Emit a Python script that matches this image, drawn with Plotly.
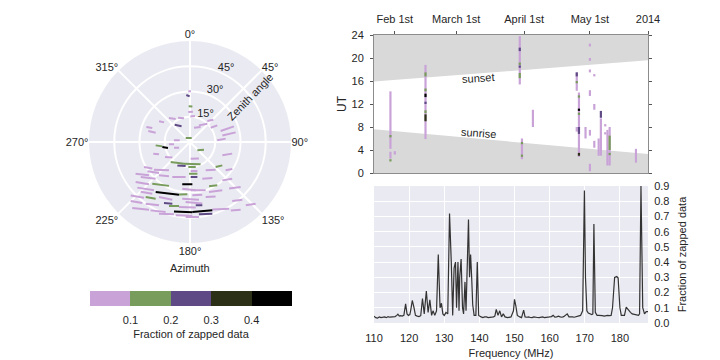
import plotly.graph_objects as go

# ---- polar panel: short source tracks (azimuth / zenith of both ends, degrees)
seg_az0 = [-1.9, -4.5, -2.1, -3.2, 0.8, -41.2, -26.1, 39.5, 28.2, -41.5, -71.0, -75.3, -56.2, 15.8, 55.4,
           70.3, 78.8, 86.5, -47.3, 264.4, 259.6, 263.6, 250.3, 276.0, 138.7, 252.4, 239.2, 177.7, 112.4,
           134.4, 224.0, 195.6, 208.4, 183.8, 241.4, 235.5, 232.5, 178.7, 181.8, 151.0, 128.4, 239.8,
           234.6, 222.9, 206.8, 178.9, 222.1, 190.4, 156.7, 139.9, 233.6, 229.1, 214.5, 191.8, 179.2,
           159.2, 140.0, 228.0, 218.8, 209.4, 177.5, 164.1, 144.4, 225.2, 203.1, 198.2, 184.2, 174.8,
           189.6, 221.2, 210.0, 193.0, 178.1, 173.0, 161.7, 149.2, 138.6, 203.4, 191.0, 215.7, 189.4,
           161.5, 224.8, 187.8, 183.3]
seg_zen0 = [30.1, 28.0, 21.2, 17.8, 15.2, 19.0, 16.1, 16.2, 11.2, 13.7, 27.4, 25.6, 22.1, 8.8, 14.9,
            19.3, 19.6, 16.2, 3.5, 20.5, 16.7, 12.6, 10.1, 9.6, 6.6, 22.9, 17.3, 9.9, 20.8,
            21.3, 16.5, 13.4, 15.8, 14.9, 31.1, 30.7, 27.0, 17.2, 18.8, 19.2, 27.0, 37.4,
            35.9, 27.0, 23.3, 20.8, 33.4, 25.5, 28.6, 29.8, 40.1, 41.4, 36.0, 31.8, 28.7,
            31.8, 36.1, 47.4, 42.0, 37.5, 31.7, 34.0, 43.1, 49.7, 39.4, 40.0, 35.7, 37.8,
            39.1, 52.1, 46.9, 42.3, 41.6, 43.3, 42.3, 47.3, 50.1, 46.4, 44.4, 45.1, 28.1,
            23.0, 41.6, 34.0, 44.7]
seg_az1 = [1.1, -0.4, 3.8, 5.6, 10.9, -31.8, -14.3, 46.3, 43.4, -28.3, -69.7, -74.9, -52.8, 35.3, 58.6,
           70.4, 78.1, 84.6, 22.6, 261.0, 254.6, 261.6, 242.4, 279.3, 119.0, 248.4, 228.5, 151.8, 105.4,
           125.9, 195.6, 154.7, 190.3, 167.1, 234.8, 225.0, 216.7, 165.6, 166.8, 137.2, 122.5, 230.9,
           223.1, 211.5, 187.1, 168.1, 205.6, 176.8, 147.8, 131.0, 224.2, 216.7, 191.8, 182.9, 162.0,
           146.2, 131.6, 219.5, 211.2, 197.0, 166.9, 154.8, 137.8, 218.0, 196.0, 189.7, 168.7, 169.0,
           175.0, 211.2, 199.2, 178.1, 161.9, 162.7, 149.6, 143.2, 133.2, 192.5, 178.2, 206.1, 173.2,
           148.1, 216.1, 171.2, 173.2]
seg_zen1 = [30.1, 27.1, 21.2, 18.1, 15.7, 16.1, 14.5, 19.2, 15.0, 10.6, 23.9, 21.1, 19.3, 10.9, 19.0,
            27.7, 27.7, 21.3, 2.6, 16.6, 13.6, 9.6, 7.3, 6.2, 9.5, 19.8, 14.0, 11.2, 26.0,
            23.7, 13.4, 14.7, 14.5, 15.3, 27.4, 26.0, 20.9, 17.8, 19.3, 22.4, 29.8, 31.4,
            29.9, 23.9, 21.0, 21.3, 28.9, 25.1, 30.4, 33.2, 35.0, 35.8, 32.0, 31.1, 30.2,
            34.5, 40.2, 42.9, 39.4, 35.9, 32.1, 35.7, 46.3, 46.0, 38.1, 38.6, 37.3, 38.3,
            39.1, 47.0, 44.1, 41.8, 42.7, 44.6, 45.9, 50.2, 53.5, 44.0, 43.8, 41.9, 28.9,
            25.2, 38.0, 34.7, 44.9]
seg_frac = [0.05, 0.25, 0.15, 0.05, 0.05, 0.05, 0.05, 0.05, 0.05, 0.25, 0.05, 0.05, 0.05, 0.05, 0.05,
            0.05, 0.05, 0.05, 0.15, 0.15, 0.45, 0.05, 0.05, 0.05, 0.15, 0.05, 0.05, 0.05, 0.05,
            0.15, 0.15, 0.15, 0.25, 0.15, 0.05, 0.05, 0.05, 0.05, 0.15, 0.05, 0.05, 0.05,
            0.05, 0.05, 0.05, 0.25, 0.15, 0.45, 0.15, 0.05, 0.05, 0.05, 0.45, 0.15, 0.05,
            0.05, 0.05, 0.05, 0.15, 0.05, 0.05, 0.05, 0.05, 0.05, 0.25, 0.15, 0.05, 0.25,
            0.05, 0.05, 0.05, 0.45, 0.45, 0.25, 0.05, 0.05, 0.05, 0.05, 0.05, 0.05, 0.05,
            0.05, 0.05, 0.05, 0.05]

azimuth_ticks = [0, 45, 90, 135, 180, 225, 270, 315]
zenith_ticks = [15, 30, 45]

# ---- observation calendar: date, UT span, fraction zapped
obs_date = ["2014-01-30", "2014-01-30", "2014-02-01", "2014-01-30", "2014-01-30",
            "2014-02-15", "2014-02-15", "2014-02-15", "2014-02-15", "2014-02-15", "2014-02-15", "2014-02-15",
            "2014-03-30", "2014-03-30", "2014-03-30", "2014-03-30", "2014-03-30",
            "2014-03-31", "2014-03-31", "2014-03-31", "2014-04-05",
            "2014-04-25", "2014-04-25", "2014-04-25", "2014-04-25",
            "2014-04-26", "2014-04-26", "2014-04-26", "2014-04-26", "2014-04-26", "2014-04-26",
            "2014-04-29", "2014-05-01", "2014-05-01", "2014-05-01", "2014-05-01", "2014-05-01", "2014-05-01",
            "2014-05-03", "2014-05-03", "2014-05-03", "2014-05-05", "2014-05-06", "2014-05-06",
            "2014-05-08", "2014-05-08", "2014-05-09", "2014-05-10", "2014-05-10", "2014-05-10", "2014-05-22"]
obs_ut0 = [4.2, 2.5, 3.2, 6.2, 2.0,
           5.9, 16.8, 14.2, 10.4, 12.0, 9.0, 13.2,
           15.4, 18.8, 16.5, 21.2, 18.3,
           2.4, 5.0, 2.8, 8.0,
           14.3, 15.6, 16.8, 7.2,
           2.8, 13.1, 10.1, 6.8, 10.8, 3.0,
           6.0, 22.0, 19.5, 17.5, 13.4, 6.5, 0.3,
           16.8, 11.0, 4.4, 3.0, 3.0, 9.6,
           8.1, 6.7, 1.3, 1.3, 4.0, 3.1, 1.8]
obs_ut1 = [14.2, 3.7, 3.8, 6.6, 2.4,
           18.8, 17.5, 14.7, 10.9, 12.4, 10.2, 13.8,
           23.8, 19.2, 17.4, 21.8, 18.7,
           6.0, 5.4, 3.2, 11.0,
           17.5, 16.0, 17.5, 8.0,
           14.0, 13.5, 10.5, 8.0, 11.2, 3.5,
           8.0, 22.5, 20.0, 18.0, 14.4, 7.5, 1.6,
           17.2, 12.0, 5.6, 6.0, 9.5, 10.8,
           8.5, 7.1, 7.5, 8.0, 6.5, 3.5, 4.2]
obs_frac = [0.05, 0.05, 0.05, 0.15, 0.15,
            0.05, 0.15, 0.15, 0.15, 0.25, 0.35, 0.45,
            0.05, 0.15, 0.15, 0.25, 0.25,
            0.05, 0.15, 0.15, 0.05,
            0.05, 0.15, 0.25, 0.05,
            0.05, 0.15, 0.15, 0.25, 0.45, 0.35,
            0.05, 0.05, 0.05, 0.05, 0.05, 0.05, 0.05,
            0.05, 0.05, 0.05, 0.05, 0.05, 0.25,
            0.05, 0.05, 0.05, 0.05, 0.15, 0.15, 0.05]

sun_dates = ["2014-01-22 12:00", "2014-05-27 12:00"]
sunset_ut = [15.9, 19.6]
sunrise_ut = [7.6, 3.3]
day_ticks = ["2014-02-01", "2014-03-01", "2014-04-01", "2014-05-01", "2014-05-27 12:00"]
day_labels = ["Feb 1st", "March 1st", "April 1st", "May 1st", "2014"]

# ---- fraction zapped vs frequency
freq = [110, 110.5, 111, 111.5, 112, 112.5, 113, 113.5, 114, 114.5, 115, 115.5, 116, 116.5, 116.8, 117.2,
        117.6, 118, 118.5, 119, 119.4, 119.8, 120.2, 120.5, 120.9, 121.4, 121.8, 122.3, 122.8, 123.3, 123.8,
        124.3, 124.9, 125.4, 125.9, 126.4, 126.8, 127.3, 127.8, 128.3, 128.8, 129.2, 129.6, 130, 130.5,
        131, 131.5, 132, 132.4, 132.8, 133.2, 133.5, 133.9, 134.2, 134.4, 134.8, 135.2, 135.5, 135.9,
        136.2, 136.5, 136.9, 137.2, 137.5, 137.8, 138.1, 138.5, 139, 139.4, 139.8, 140.5, 141, 141.5,
        142, 142.5, 143, 143.5, 144, 144.4, 144.8, 145.3, 145.8, 146.3, 146.8, 147.3, 148, 148.5, 149,
        149.7, 150, 150.4, 150.8, 151.5, 152, 152.6, 153, 153.5, 154, 154.5, 155, 155.5, 156, 156.5, 157,
        157.5, 158, 158.5, 159, 159.5, 160, 160.5, 161, 161.5, 162, 162.5, 163, 163.5, 164, 164.6, 165,
        165.5, 166, 166.5, 167, 167.5, 168, 168.5, 168.8, 169.4, 169.9, 170.2, 170.6, 171, 171.5, 172,
        172.3, 172.6, 173, 173.5, 174, 174.5, 175, 175.5, 176, 176.5, 177, 177.5, 177.9, 178.5, 179.1,
        179.5, 180, 180.4, 180.8, 181.3, 181.8, 182.5, 183, 183.5, 184, 184.5, 185, 185.3, 185.6, 186,
        186.5, 187, 187.5, 188]
zapped = [0.045, 0.035, 0.032, 0.04, 0.036, 0.038, 0.04, 0.035, 0.042, 0.038, 0.04, 0.044, 0.042, 0.05,
          0.058, 0.045, 0.048, 0.045, 0.05, 0.126, 0.06, 0.05, 0.055, 0.09, 0.148, 0.1, 0.05, 0.045,
          0.042, 0.048, 0.16, 0.06, 0.21, 0.07, 0.152, 0.05, 0.08, 0.05, 0.08, 0.45, 0.1, 0.13, 0.06,
          0.05, 0.07, 0.06, 0.72, 0.4, 0.05, 0.36, 0.4, 0.1, 0.4, 0.08, 0.3, 0.42, 0.1, 0.06, 0.27,
          0.08, 0.36, 0.68, 0.3, 0.45, 0.3, 0.12, 0.05, 0.05, 0.4, 0.05, 0.04, 0.035, 0.04, 0.04,
          0.035, 0.035, 0.038, 0.04, 0.045, 0.09, 0.05, 0.08, 0.04, 0.06, 0.04, 0.035, 0.04, 0.04,
          0.08, 0.155, 0.11, 0.05, 0.04, 0.035, 0.085, 0.04, 0.038, 0.04, 0.036, 0.035, 0.04, 0.04,
          0.036, 0.035, 0.038, 0.04, 0.036, 0.035, 0.038, 0.04, 0.042, 0.05, 0.038, 0.04, 0.045, 0.04,
          0.038, 0.042, 0.05, 0.06, 0.04, 0.042, 0.04, 0.038, 0.04, 0.042, 0.045, 0.05, 0.08, 0.87, 0.3,
          0.08, 0.065, 0.06, 0.055, 0.06, 0.65, 0.07, 0.05, 0.05, 0.05, 0.048, 0.045, 0.05, 0.05, 0.048,
          0.05, 0.1, 0.3, 0.305, 0.295, 0.1, 0.05, 0.05, 0.05, 0.105, 0.08, 0.07, 0.06, 0.058, 0.055,
          0.052, 0.05, 0.06, 0.9, 0.1, 0.06, 0.075, 0.075, 0.06]

cbar_ticks = [0.1, 0.2, 0.3, 0.4]
COLORS = ["#C9A3D8", "#789C5B", "#5F4A85", "#2B3016", "#000000"]
FONT = "Liberation Sans, Arial, sans-serif"
TXT = "#262626"
W, H, OFF = 720, 360, 8   # page body has an 8px margin


def px(x):
    return (x - OFF) / W


def py(y):
    return 1 - (y - OFF) / H


def bin_of(f):
    return min(int(f * 10), 4)


fig = go.Figure()

# polar tracks, one trace per colour bin
for b in range(5):
    th, r = [], []
    for i in range(len(seg_frac)):
        if bin_of(seg_frac[i]) == b:
            th += [seg_az0[i], seg_az1[i], None]
            r += [seg_zen0[i], seg_zen1[i], None]
    fig.add_trace(go.Scatterpolar(r=r, theta=th, mode="lines", line=dict(color=COLORS[b], width=2),
                                  showlegend=False, hoverinfo="skip", subplot="polar"))

# zenith tick labels, just outside each ring
fig.add_trace(go.Scatterpolar(r=[z + 4.0 for z in zenith_ticks], theta=[29, 26, 26], mode="text",
                              text=[f"{z}°" for z in zenith_ticks], textfont=dict(size=11, color=TXT),
                              showlegend=False, hoverinfo="skip", subplot="polar"))

# colour bar carrier
cscale = []
for b in range(5):
    cscale += [[b / 5, COLORS[b]], [(b + 1) / 5, COLORS[b]]]
fig.add_trace(go.Scatterpolar(
    r=seg_zen0, theta=seg_az0, mode="markers", subplot="polar", showlegend=False, hoverinfo="skip",
    marker=dict(size=1, opacity=0, color=seg_frac, colorscale=cscale, cmin=0, cmax=0.5, showscale=True,
                colorbar=dict(orientation="h", x=px(191), xanchor="center", y=py(291), yanchor="top",
                              lenmode="pixels", len=202, thickness=15, outlinewidth=0, xpad=0, ypad=0,
                              tickvals=cbar_ticks, ticks="outside", ticklen=5, tickcolor="rgba(0,0,0,0)",
                              tickfont=dict(size=11, color=TXT),
                              title=dict(text="Fraction of zapped data", side="bottom",
                                         font=dict(size=11, color=TXT))))))

# night shading
fig.add_trace(go.Scatter(x=sun_dates, y=sunset_ut, mode="lines", line=dict(width=0), showlegend=False,
                         hoverinfo="skip", xaxis="x", yaxis="y"))
fig.add_trace(go.Scatter(x=sun_dates, y=[24, 24], mode="lines", line=dict(width=0), fill="tonexty",
                         fillcolor="#D9D9D9", showlegend=False, hoverinfo="skip", xaxis="x", yaxis="y"))
fig.add_trace(go.Scatter(x=sun_dates, y=[0, 0], mode="lines", line=dict(width=0), showlegend=False,
                         hoverinfo="skip", xaxis="x", yaxis="y"))
fig.add_trace(go.Scatter(x=sun_dates, y=sunrise_ut, mode="lines", line=dict(width=0), fill="tonexty",
                         fillcolor="#D9D9D9", showlegend=False, hoverinfo="skip", xaxis="x", yaxis="y"))

for b in range(5):
    xs, ys = [], []
    for i in range(len(obs_frac)):
        if bin_of(obs_frac[i]) == b:
            xs += [obs_date[i], obs_date[i], None]
            ys += [obs_ut0[i], obs_ut1[i], None]
    fig.add_trace(go.Scatter(x=xs, y=ys, mode="lines", line=dict(color=COLORS[b], width=2.2),
                             showlegend=False, hoverinfo="skip", xaxis="x", yaxis="y"))

fig.add_trace(go.Scatter(x=freq, y=zapped, mode="lines", line=dict(color="#333333", width=1.2),
                         showlegend=False, xaxis="x2", yaxis="y2"))

tick_font = dict(size=11, color=TXT)
fig.update_layout(
    width=W, height=H, margin=dict(l=0, r=0, t=0, b=0, autoexpand=False),
    paper_bgcolor="white", plot_bgcolor="#EAEAF2",
    font=dict(family=FONT, size=11, color=TXT),
    polar=dict(
        domain=dict(x=[px(89), px(291)], y=[py(243), py(41)]),
        bgcolor="#EAEAF2",
        angularaxis=dict(direction="clockwise", rotation=90, tickmode="array", tickvals=azimuth_ticks,
                         ticktext=[f"{a}°" for a in azimuth_ticks], showline=False, gridcolor="white",
                         gridwidth=1.5, ticks="", tickfont=tick_font),
        radialaxis=dict(range=[0, 60], tickmode="array", tickvals=zenith_ticks, showticklabels=False,
                        showline=False, gridcolor="white", gridwidth=1.5, ticks=""),
    ),
    xaxis=dict(domain=[px(374), px(648)], anchor="y", side="top", type="date",
               range=[sun_dates[0], sun_dates[1]], tickvals=day_ticks, ticktext=day_labels,
               showgrid=False, zeroline=False, showline=True, linecolor="#8c8c8c", mirror=True,
               ticks="outside", ticklen=3, tickcolor="#555", ticklabelstandoff=4, tickfont=tick_font),
    yaxis=dict(domain=[py(173), py(35)], anchor="x", range=[0, 24], dtick=4,
               showgrid=False, zeroline=False, showline=True, linecolor="#8c8c8c", mirror="ticks",
               ticks="outside", ticklen=3, tickcolor="#555", ticklabelstandoff=4, tickfont=tick_font,
               title=dict(text="UT", font=dict(size=12, color=TXT), standoff=2)),
    xaxis2=dict(domain=[px(374), px(648)], anchor="y2", range=[110, 188], dtick=10,
                gridcolor="white", gridwidth=1.3, zeroline=False, showline=False,
                ticks="outside", ticklen=5, tickcolor="rgba(0,0,0,0)", tickfont=tick_font,
                title=dict(text="Frequency (MHz)", font=dict(size=11, color=TXT), standoff=6)),
    yaxis2=dict(domain=[py(323), py(186)], anchor="x2", side="right", range=[0, 0.9],
                dtick=0.1, tickformat=".1f", gridcolor="white", gridwidth=1.3, zeroline=False,
                showline=False, ticks="outside", ticklen=3, tickcolor="rgba(0,0,0,0)", tickfont=tick_font,
                title=dict(text="Fraction of zapped data", font=dict(size=11, color=TXT), standoff=9)),
    shapes=[dict(type="rect", xref="x domain", yref="y domain", x0=0, x1=1, y0=0, y1=1,
                 fillcolor="white", line=dict(width=0), layer="below")],
    annotations=[
        dict(text="Zenith angle", x=px(250), y=py(97), xref="paper", yref="paper",
             xanchor="center", yanchor="middle",
             showarrow=False, textangle=-46, font=dict(size=11, color=TXT)),
        dict(text="Azimuth", x=px(190), y=py(268), xref="paper", yref="paper",
             xanchor="center", yanchor="middle", showarrow=False, font=dict(size=11, color=TXT)),
        dict(text="sunset", x="2014-03-11", y=16.6, xref="x", yref="y", showarrow=False,
             textangle=-4, font=dict(size=11, color=TXT)),
        dict(text="sunrise", x="2014-03-11", y=7.0, xref="x", yref="y", showarrow=False,
             textangle=4, font=dict(size=11, color=TXT)),
    ],
)

fig.write_html("out.html")
